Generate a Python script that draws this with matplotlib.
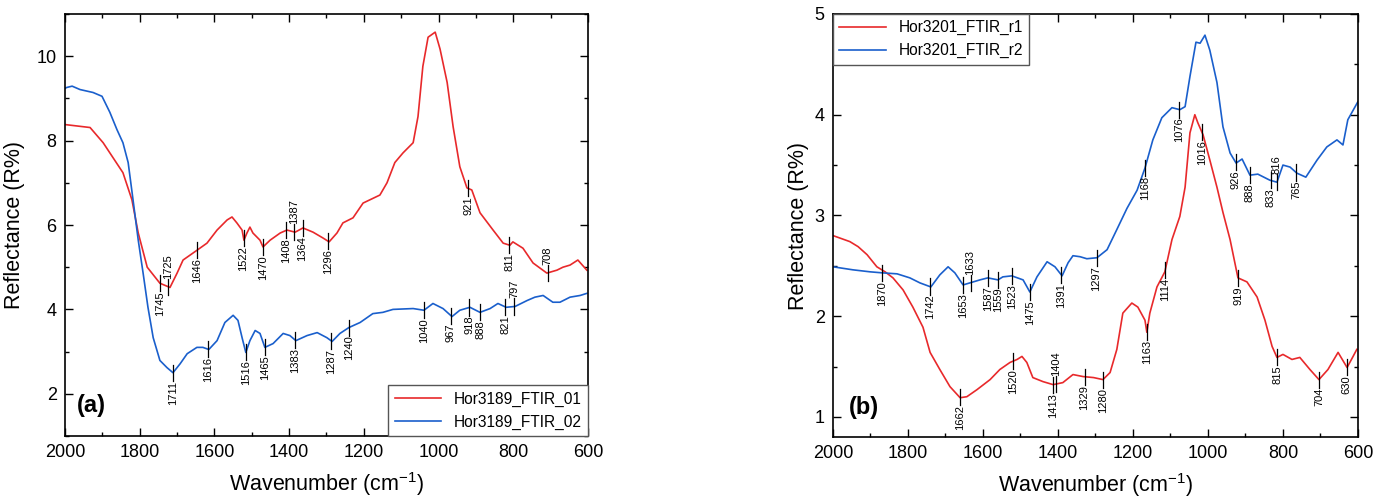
import numpy as np
import matplotlib as mpl
import matplotlib.pyplot as plt
from matplotlib.ticker import MultipleLocator

plt.rcParams['font.family'] = ['Liberation Sans', 'DejaVu Sans']
plt.rcParams['mathtext.fontset'] = 'custom'
plt.rcParams['mathtext.rm'] = 'Liberation Sans'
plt.rcParams['mathtext.it'] = 'Liberation Sans:italic'

# (a) Hor3189 spectra
wn_a1 = [2000, 1933, 1898, 1845, 1821, 1804, 1780, 1746, 1719, 1700,
         1684, 1647, 1620, 1593, 1566, 1553, 1540, 1526, 1521, 1513,
         1505, 1497, 1478, 1470, 1451, 1424, 1406, 1384, 1363, 1336,
         1309, 1293, 1272, 1256, 1229, 1202, 1157, 1138, 1117, 1095,
         1068, 1055, 1042, 1028, 1009, 996, 977, 961, 943, 924,
         911, 889, 854, 827, 809, 801, 774, 747, 710, 683,
         667, 648, 627, 603]
r_a1 = [8.38, 8.31, 7.95, 7.24, 6.6, 5.81, 5.0, 4.62, 4.52, 4.86,
        5.17, 5.4, 5.57, 5.88, 6.12, 6.19, 6.05, 5.88, 5.64, 5.81,
        5.95, 5.81, 5.64, 5.48, 5.64, 5.81, 5.88, 5.83, 5.93, 5.83,
        5.69, 5.6, 5.81, 6.05, 6.17, 6.52, 6.71, 7.0, 7.48, 7.71,
        7.95, 8.57, 9.76, 10.45, 10.57, 10.17, 9.38, 8.33, 7.38, 6.88,
        6.83, 6.29, 5.88, 5.57, 5.52, 5.6, 5.45, 5.1, 4.86, 4.93,
        5.0, 5.05, 5.17, 4.93]

wn_a2 = [2000, 1995, 1981, 1960, 1925, 1901, 1880, 1861, 1845, 1831,
         1818, 1804, 1791, 1778, 1764, 1746, 1727, 1711, 1692, 1673,
         1647, 1631, 1615, 1593, 1572, 1550, 1537, 1526, 1516, 1505,
         1491, 1478, 1465, 1443, 1416, 1398, 1382, 1352, 1325, 1299,
         1285, 1264, 1240, 1210, 1176, 1149, 1122, 1068, 1039, 1015,
         988, 964, 943, 916, 889, 862, 841, 819, 795, 763,
         742, 720, 694, 675, 648, 621, 603]
r_a2 = [9.24, 9.26, 9.29, 9.21, 9.14, 9.05, 8.67, 8.26, 7.95, 7.48,
        6.6, 5.64, 4.86, 4.05, 3.33, 2.79, 2.62, 2.5, 2.71, 2.95,
        3.1, 3.1, 3.05, 3.26, 3.69, 3.86, 3.74, 3.33, 2.98, 3.26,
        3.5, 3.43, 3.1, 3.19, 3.43, 3.38, 3.26, 3.38, 3.45, 3.33,
        3.24, 3.43, 3.57, 3.69, 3.9, 3.93, 4.0, 4.02, 3.98, 4.14,
        4.02, 3.83, 3.98, 4.05, 3.93, 4.02, 4.14, 4.05, 4.07, 4.21,
        4.29, 4.33, 4.17, 4.17, 4.29, 4.33, 4.38]

peaks_a1 = [1745, 1725, 1646, 1522, 1470, 1408, 1387, 1364, 1296, 921, 811, 708]
up_a1 = [1725, 1387, 708]
peaks_a2 = [1711, 1616, 1516, 1465, 1383, 1287, 1240, 1040, 967, 918, 888, 821, 797]
up_a2 = [797]

# (b) Hor3201 spectra
wn_b1 = [2000, 1955, 1933, 1909, 1883, 1861, 1840, 1813, 1787, 1760,
         1741, 1715, 1688, 1661, 1643, 1616, 1581, 1555, 1528, 1509,
         1496, 1483, 1467, 1440, 1413, 1387, 1360, 1333, 1305, 1280,
         1261, 1243, 1227, 1203, 1187, 1168, 1163, 1155, 1136, 1115,
         1096, 1075, 1061, 1048, 1035, 1027, 1013, 995, 976, 960,
         941, 920, 896, 869, 848, 829, 816, 800, 776, 755,
         728, 704, 680, 653, 629, 613, 603]
r_b1 = [2.80, 2.74, 2.69, 2.61, 2.49, 2.44, 2.38, 2.26, 2.09, 1.89,
        1.64, 1.47, 1.30, 1.19, 1.20, 1.27, 1.37, 1.47, 1.54, 1.57,
        1.60, 1.54, 1.39, 1.35, 1.32, 1.34, 1.42, 1.40, 1.39, 1.37,
        1.44, 1.67, 2.03, 2.13, 2.09, 1.96, 1.84, 2.03, 2.29, 2.44,
        2.76, 2.99, 3.28, 3.82, 4.00, 3.92, 3.80, 3.55, 3.28, 3.03,
        2.76, 2.38, 2.34, 2.19, 1.96, 1.70, 1.59, 1.62, 1.57, 1.59,
        1.47, 1.37, 1.47, 1.64, 1.49, 1.60, 1.67]

wn_b2 = [2000, 1947, 1901, 1869, 1829, 1795, 1768, 1739, 1715, 1693,
         1675, 1653, 1635, 1608, 1587, 1560, 1547, 1523, 1493, 1475,
         1456, 1429, 1408, 1389, 1373, 1360, 1341, 1323, 1296, 1269,
         1243, 1216, 1189, 1168, 1147, 1123, 1096, 1075, 1061, 1048,
         1032, 1021, 1008, 995, 976, 960, 941, 925, 909, 888,
         867, 835, 816, 800, 781, 763, 739, 709, 683, 656,
         640, 627, 600]
r_b2 = [2.49, 2.46, 2.44, 2.43, 2.42, 2.38, 2.33, 2.29, 2.41, 2.49,
        2.43, 2.31, 2.33, 2.36, 2.38, 2.36, 2.39, 2.40, 2.36, 2.24,
        2.39, 2.54, 2.49, 2.40, 2.53, 2.60, 2.59, 2.57, 2.58, 2.66,
        2.86, 3.07, 3.25, 3.47, 3.75, 3.97, 4.07, 4.05, 4.08, 4.38,
        4.72, 4.71, 4.79, 4.64, 4.32, 3.88, 3.62, 3.52, 3.56, 3.40,
        3.41, 3.35, 3.33, 3.50, 3.48, 3.42, 3.38, 3.55, 3.68, 3.75,
        3.70, 3.95, 4.13]

peaks_b1 = [1662, 1520, 1413, 1404, 1329, 1280, 1163, 1114, 1016, 919, 815, 704, 630]
up_b1 = [1404]
peaks_b2 = [1870, 1742, 1653, 1633, 1587, 1559, 1523, 1475, 1391, 1297,
            1168, 1076, 926, 888, 833, 816, 765]
up_b2 = [1633, 816]

RED = '#E8292B'
BLUE = '#1A5FCC'


def mark_peaks(ax, wn, r, peaks, up, half):
    # short vertical bar on the curve and a rotated label beside it
    xs = np.array(wn)[::-1]
    ys = np.array(r)[::-1]
    for p in peaks:
        y = np.interp(p, xs, ys)
        ax.plot([p, p], [y - half, y + half], color='black', lw=0.9, zorder=4)
        if p in up:
            ax.text(p, y + half, str(p), rotation=90, ha='center', va='bottom', fontsize=8)
        else:
            ax.text(p, y - half, str(p), rotation=90, ha='center', va='top', fontsize=8)


def style_axes(ax, ymajor, yminor):
    ax.set_xlim(2000, 600)
    ax.xaxis.set_major_locator(MultipleLocator(200))
    ax.xaxis.set_minor_locator(MultipleLocator(100))
    ax.yaxis.set_major_locator(MultipleLocator(ymajor))
    ax.yaxis.set_minor_locator(MultipleLocator(yminor))
    ax.tick_params(which='both', direction='in', top=True, right=True, labelsize=13, pad=6)
    ax.tick_params(which='major', length=6, width=1)
    ax.tick_params(which='minor', length=3, width=1)
    for s in ax.spines.values():
        s.set_linewidth(1.2)
    ax.set_xlabel(r'Wavenumber (cm$^{\mathrm{-1}}$)', fontsize=15.5, labelpad=6)


fig = plt.figure(figsize=(13.75, 5), dpi=100)
ax1 = fig.add_axes([0.0473, 0.128, 0.3803, 0.844])
ax2 = fig.add_axes([0.6058, 0.126, 0.3818, 0.846])

# panel (a)
ax1.plot(wn_a1, r_a1, color=RED, lw=1.2, label='Hor3189_FTIR_01')
ax1.plot(wn_a2, r_a2, color=BLUE, lw=1.2, label='Hor3189_FTIR_02')
ax1.set_ylim(1.0, 11.0)
style_axes(ax1, 2, 1)
mark_peaks(ax1, wn_a1, r_a1, peaks_a1, up_a1, 0.19)
mark_peaks(ax1, wn_a2, r_a2, peaks_a2, up_a2, 0.19)
ax1.set_ylabel('Reflectance (R%)', fontsize=15.5, labelpad=8)
ax1.text(0.022, 0.072, '(a)', transform=ax1.transAxes, fontsize=17, fontweight='bold',
         ha='left', va='center')
leg1 = ax1.legend(loc='lower right', fontsize=11.2, handlelength=3.0, borderaxespad=0,
                  fancybox=False, framealpha=1, edgecolor='#555555')
leg1.get_frame().set_linewidth(1.0)

# panel (b)
ax2.plot(wn_b1, r_b1, color=RED, lw=1.2, label='Hor3201_FTIR_r1')
ax2.plot(wn_b2, r_b2, color=BLUE, lw=1.2, label='Hor3201_FTIR_r2')
ax2.set_ylim(0.8, 5.0)
style_axes(ax2, 1, 0.5)
mark_peaks(ax2, wn_b1, r_b1, peaks_b1, up_b1, 0.08)
mark_peaks(ax2, wn_b2, r_b2, peaks_b2, up_b2, 0.08)
ax2.set_ylabel('Reflectance (R%)', fontsize=15.5, labelpad=4)
ax2.text(0.03, 0.07, '(b)', transform=ax2.transAxes, fontsize=17, fontweight='bold',
         ha='left', va='center')
leg2 = ax2.legend(loc='upper left', fontsize=11.2, handlelength=3.0, borderaxespad=0,
                  fancybox=False, framealpha=1, edgecolor='#555555')
leg2.get_frame().set_linewidth(1.0)

plt.savefig('out.png', dpi=100)
